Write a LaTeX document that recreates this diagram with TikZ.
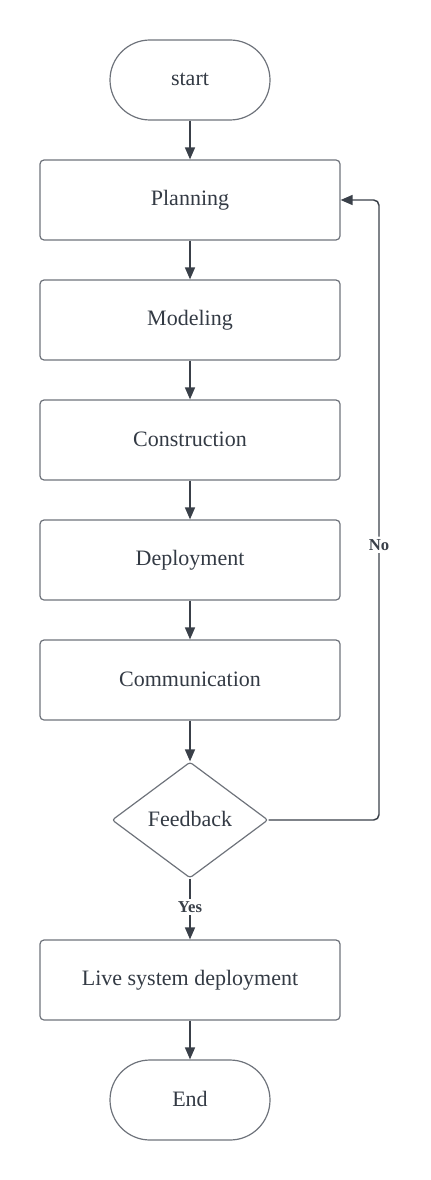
\documentclass[tikz,border=0pt]{standalone}
\usepackage{fontspec}
\setmainfont{Liberation Serif}
\usetikzlibrary{shapes.geometric,arrows.meta}
\definecolor{boxline}{HTML}{6E737B}
\definecolor{txt}{HTML}{333A44}
\definecolor{arr}{HTML}{3A4049}
\newcommand{\rtxt}[1]{\raisebox{1.5pt}{#1}}
\tikzset{
  procbox/.style={draw=boxline, line width=0.9pt, rounded corners=3pt, minimum width=225pt, minimum height=60pt, inner sep=0pt, text=txt, font=\fontsize{16.5}{18}\selectfont},
  termbox/.style={draw=boxline, line width=0.9pt, rounded corners=30pt, minimum width=120pt, minimum height=60pt, inner sep=0pt, text=txt, font=\fontsize{16.5}{18}\selectfont},
  decbox/.style={diamond, draw=boxline, line width=0.9pt, rounded corners=2pt, minimum width=117pt, minimum height=87pt, aspect=1.345, inner sep=0pt, text=txt, font=\fontsize{16.5}{18}\selectfont},
  conn/.style={draw=arr, line width=1.1pt, -{Triangle[width=7.5pt,length=9pt]}},
  lbl/.style={fill=white, text=arr, font=\bfseries\fontsize{12.5}{14}\selectfont, inner sep=2pt}
}
\begin{document}
\begin{tikzpicture}[x=0.75pt, y=-0.75pt]
\useasboundingbox (0,0) rectangle (431,1180);
\node[termbox] (start) at (190,80) {\rtxt{start}};
\node[procbox] (plan) at (190,200) {\rtxt{Planning}};
\node[procbox] (model) at (190,320) {\rtxt{Modeling}};
\node[procbox] (cons) at (190,440) {\rtxt{Construction}};
\node[procbox] (dep) at (190,560) {\rtxt{Deployment}};
\node[procbox] (comm) at (190,680) {\rtxt{Communication}};
\node[decbox] (fb) at (190,820) {\rtxt{Feedback}};
\node[procbox] (live) at (190,980) {\rtxt{Live system deployment}};
\node[termbox] (end) at (190,1100) {\rtxt{End}};
\coordinate (c1) at (379,820);
\coordinate (c2) at (379,200);
\draw[conn] (start) -- (plan);
\draw[conn] (plan) -- (model);
\draw[conn] (model) -- (cons);
\draw[conn] (cons) -- (dep);
\draw[conn] (dep) -- (comm);
\draw[conn] (comm) -- (fb);
\draw[conn] (fb) -- node[lbl, pos=0.47] {Yes} (live);
\draw[conn] (live) -- (end);
\draw[conn, rounded corners=4pt] (fb.east) -- (c1) -- node[lbl, pos=0.444] {No} (c2) -- (plan.east);
\end{tikzpicture}
\end{document}
